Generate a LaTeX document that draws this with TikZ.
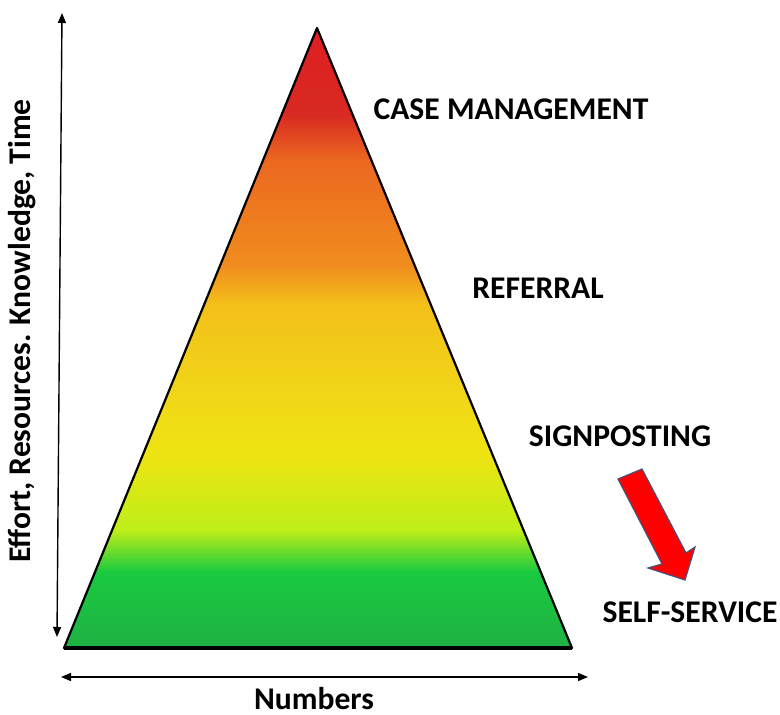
\documentclass[tikz,border=0pt]{standalone}
\usepackage{fontspec}
\setmainfont{Carlito}
\usetikzlibrary{arrows.meta}
\definecolor{lvlred}{HTML}{E11C22}
\definecolor{lvldarkred}{HTML}{D82A22}
\definecolor{lvlorange}{HTML}{EC6820}
\definecolor{lvlpeach}{HTML}{F08C1E}
\definecolor{lvlamber}{HTML}{F3C01A}
\definecolor{lvlgold}{HTML}{F1D418}
\definecolor{lvlyellow}{HTML}{EEE412}
\definecolor{lvllime}{HTML}{BEEE18}
\definecolor{lvlgreen}{HTML}{1ACA40}
\definecolor{lvldeep}{HTML}{1FB044}
\definecolor{arrowedge}{HTML}{4A4F78}
% one horizontal colour band of the pyramid
\newcommand{\band}[4]{%
  \shade[top color=#3, bottom color=#4] (40,#1) rectangle (600,#2);
}

\begin{document}
\begin{tikzpicture}[x=0.5pt, y=-0.5pt,
    lbl/.style={font=\bfseries\fontsize{15.8}{18}\selectfont},
    axis/.style={line width=0.7pt, {Triangle[length=5pt,width=4pt]}-{Triangle[length=5pt,width=4pt]}}]
    \useasboundingbox (0,0) rectangle (780,715);

    % pyramid corners
    \coordinate (apex) at (317,28);
    \coordinate (left) at (64,648);
    \coordinate (right) at (572,648);

    % coloured fill
    \begin{scope}
      \clip (apex) -- (left) -- (right) -- cycle;
      \band{20}{115}{lvlred}{lvldarkred}
      \band{115}{160}{lvldarkred}{lvlorange}
      \band{160}{265}{lvlorange}{lvlpeach}
      \band{265}{305}{lvlpeach}{lvlamber}
      \band{305}{385}{lvlamber}{lvlgold}
      \band{385}{455}{lvlgold}{lvlyellow}
      \band{455}{530}{lvlyellow}{lvllime}
      \band{530}{572}{lvllime}{lvlgreen}
      \band{572}{650}{lvlgreen}{lvldeep}
    \end{scope}
    \draw[line width=1.1pt, line join=round] (apex) -- (left) -- (right) -- cycle;
    \draw[line width=2pt] (left) -- (right);

    % axes
    \coordinate (ytop) at (62,13);
    \coordinate (ybot) at (57,637);
    \coordinate (xleft) at (61,677);
    \coordinate (xright) at (588,677);
    \draw[axis] (ybot) -- (ytop);
    \draw[axis] (xleft) -- (xright);
    \node[lbl, rotate=90] (effort) at (22,331) {Effort, Resources. Knowledge, Time};
    \node[lbl] (numbers) at (314,699) {Numbers};

    % level names
    \node[lbl] (casemgmt) at (511,109) {CASE MANAGEMENT};
    \node[lbl] (referral) at (538,288) {REFERRAL};
    \node[lbl] (signpost) at (620,436) {SIGNPOSTING};
    \node[lbl] (selfserv) at (690,612) {SELF-SERVICE};

    % red arrow down to self-service
    \draw[fill=red, draw=arrowedge, line width=0.6pt, line join=miter]
      (618,479) -- (642,469) -- (686,553) -- (695,547) -- (685,580)
      -- (648,568) -- (662,564) -- cycle;
\end{tikzpicture}
\end{document}
